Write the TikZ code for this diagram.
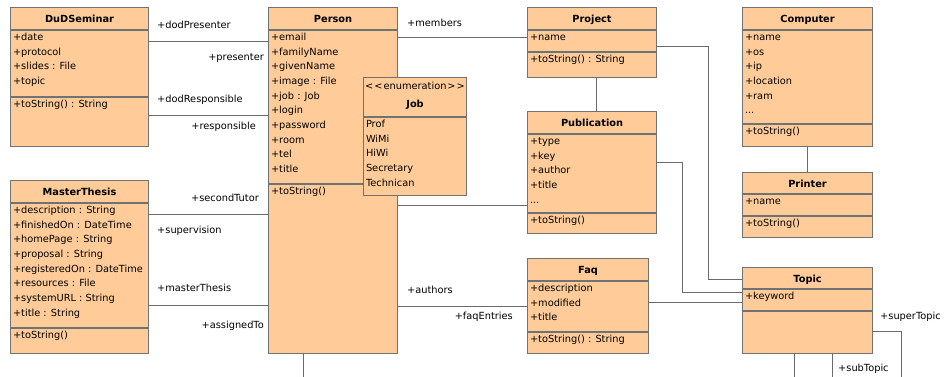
\documentclass[tikz,border=0pt]{standalone}
\usepackage{fontspec}
\setmainfont{DejaVu Sans}
\usepackage{tikz}
\usetikzlibrary{positioning}
\definecolor{umlfill}{HTML}{FFCC99}
\definecolor{umlline}{HTML}{727272}
\definecolor{linkcol}{HTML}{6A6A6A}
\newcommand{\clsfont}{\fontsize{9.8}{14.67}\selectfont}
\tikzset{
  cls/.style={draw=umlline, line width=1.1pt, fill=umlfill, anchor=north west,
    inner sep=0pt, minimum width=#1},
  divider/.style={draw=umlline, line width=1.1pt}}

\begin{document}
\begin{tikzpicture}[x=1pt, y=-1pt, font=\clsfont,
      ttl/.style={anchor=north, minimum height=23, text height=7, text depth=0,
        inner sep=0pt, font=\clsfont\bfseries},
      cmp/.style={anchor=north west, align=left, inner xsep=2.8pt, inner ysep=0pt},
      assoc/.style={draw=linkcol, line width=1pt},
      role/.style={inner sep=0pt, text height=7, text depth=0}]
      \useasboundingbox (0,0) rectangle (946,377);
      \clip (0,0) rectangle (946,377);
      % DuDSeminar
      \node[cls=138, minimum height=139] (dud) at (10,7) {};
      \node[ttl] (dudT) at (dud.north) {DuDSeminar};
      \draw[divider] (dud.west |- 0,30) -- (dud.east |- 0,30);
      \draw[divider] (dud.west |- 0,97) -- (dud.east |- 0,97);
      \node[cmp] (dudA) at (dud.west |- 0,30) {\strut+date\\+protocol\\+slides : File\\+topic};
      \node[cmp] (dudM) at (dud.west |- 0,97) {\strut+toString() : String};
      % MasterThesis
      \node[cls=138, minimum height=173] (master) at (10,180) {};
      \node[ttl] (masterT) at (master.north) {MasterThesis};
      \draw[divider] (master.west |- 0,203) -- (master.east |- 0,203);
      \draw[divider] (master.west |- 0,328) -- (master.east |- 0,328);
      \node[cmp] (masterA) at (master.west |- 0,203) {\strut+description : String\\
        +finishedOn : DateTime\\+homePage : String\\+proposal : String\\
        +registeredOn : DateTime\\+resources : File\\+systemURL : String\\+title : String};
      \node[cmp] (masterM) at (master.west |- 0,328) {\strut+toString()};
      % Person
      \node[cls=129, minimum height=346] (person) at (268,7) {};
      \node[ttl] (personT) at (person.north) {Person};
      \draw[divider] (person.west |- 0,30) -- (person.east |- 0,30);
      \draw[divider] (person.west |- 0,184) -- (person.east |- 0,184);
      \node[cmp] (personA) at (person.west |- 0,30) {\strut+email\\+familyName\\+givenName\\
        +image : File\\+job : Job\\+login\\+password\\+room\\+tel\\+title};
      \node[cmp] (personM) at (person.west |- 0,184) {\strut+toString()};
      % Job
      \node[cls=103, minimum height=118] (job) at (363,77) {};
      \node[ttl, minimum height=18, font=\clsfont] (jobS) at (job.north)
        {<\kern1pt<\kern1pt enumeration\kern1pt>\kern1pt>};
      \node[ttl, minimum height=16, below=0pt of jobS] (jobT) {Job};
      \draw[divider] (job.west |- 0,117) -- (job.east |- 0,117);
      \node[cmp] (jobA) at (job.west |- 0,117) {\strut Prof\\WiMi\\HiWi\\Secretary\\Technican};
      % Project
      \node[cls=129, minimum height=70] (project) at (527,7) {};
      \node[ttl] (projectT) at (project.north) {Project};
      \draw[divider] (project.west |- 0,30) -- (project.east |- 0,30);
      \draw[divider] (project.west |- 0,52) -- (project.east |- 0,52);
      \node[cmp] (projectA) at (project.west |- 0,30) {\strut+name};
      \node[cmp] (projectM) at (project.west |- 0,52) {\strut+toString() : String};
      % Publication
      \node[cls=129, minimum height=122] (pub) at (527,111) {};
      \node[ttl] (pubT) at (pub.north) {Publication};
      \draw[divider] (pub.west |- 0,134) -- (pub.east |- 0,134);
      \draw[divider] (pub.west |- 0,213) -- (pub.east |- 0,213);
      \node[cmp] (pubA) at (pub.west |- 0,134) {\strut+type\\+key\\+author\\+title\\...};
      \node[cmp] (pubM) at (pub.west |- 0,213) {\strut+toString()};
      % Faq
      \node[cls=121, minimum height=95] (faq) at (527,258) {};
      \node[ttl] (faqT) at (faq.north) {Faq};
      \draw[divider] (faq.west |- 0,281) -- (faq.east |- 0,281);
      \draw[divider] (faq.west |- 0,332) -- (faq.east |- 0,332);
      \node[cmp] (faqA) at (faq.west |- 0,281) {\strut+description\\+modified\\+title};
      \node[cmp] (faqM) at (faq.west |- 0,332) {\strut+toString() : String};
      % Computer
      \node[cls=130, minimum height=139] (computer) at (742,7) {};
      \node[ttl] (computerT) at (computer.north) {Computer};
      \draw[divider] (computer.west |- 0,30) -- (computer.east |- 0,30);
      \draw[divider] (computer.west |- 0,124) -- (computer.east |- 0,124);
      \node[cmp] (computerA) at (computer.west |- 0,30) {\strut+name\\+os\\+ip\\+location\\+ram\\...};
      \node[cmp] (computerM) at (computer.west |- 0,124) {\strut+toString()};
      % Printer
      \node[cls=130, minimum height=65] (printer) at (742,172) {};
      \node[ttl] (printerT) at (printer.north) {Printer};
      \draw[divider] (printer.west |- 0,194) -- (printer.east |- 0,194);
      \draw[divider] (printer.west |- 0,216) -- (printer.east |- 0,216);
      \node[cmp] (printerA) at (printer.west |- 0,194) {\strut+name};
      \node[cmp] (printerM) at (printer.west |- 0,216) {\strut+toString()};
      % Topic
      \node[cls=130, minimum height=86] (topic) at (742,267) {};
      \node[ttl] (topicT) at (topic.north) {Topic};
      \draw[divider] (topic.west |- 0,289) -- (topic.east |- 0,289);
      \draw[divider] (topic.west |- 0,311) -- (topic.east |- 0,311);
      \node[cmp] (topicA) at (topic.west |- 0,289) {\strut+keyword};
      % free ends below the page
      \coordinate (personEnd) at (303,390);
      \coordinate (topicEndA) at (794,390);
      \coordinate (topicEndB) at (832,390);
      \coordinate (topicEndR) at (901,390);
      % associations
      \draw[assoc] (dud.east |- 0,42) -- (person.west |- 0,42);
      \draw[assoc] (dud.east |- 0,116) -- (person.west |- 0,116);
      \draw[assoc] (master.east |- 0,215) -- (person.west |- 0,215);
      \draw[assoc] (master.east |- 0,305) -- (person.west |- 0,305);
      \draw[assoc] (person.east |- 0,38) -- (project.west |- 0,38);
      \draw[assoc] (person.east |- 0,206) -- (pub.west |- 0,206);
      \draw[assoc] (person.east |- 0,306) -- (faq.west |- 0,306);
      \draw[assoc] (person.south -| personEnd) -- (personEnd);
      \draw[assoc] (project.south -| 596,0) -- (pub.north -| 596,0);
      \draw[assoc] (project.east |- 0,47) -| (708,279) -- (topic.west |- 0,279);
      \draw[assoc] (pub.east |- 0,163) -| (682,292) -- (topic.west |- 0,292);
      \draw[assoc] (faq.east |- 0,302) -- (topic.west |- 0,302);
      \draw[assoc] (computer.south -| 807,0) -- (printer.north -| 807,0);
      \draw[assoc] (topic.east |- 0,331) -| (topicEndR);
      \draw[assoc] (topic.south -| topicEndA) -- (topicEndA);
      \draw[assoc] (topic.south -| topicEndB) -- (topicEndB);
      % role names
      \node[role, anchor=west] (rDodPres) at (157,25) {+dodPresenter};
      \node[role, anchor=east] (rPres) at (264,57) {+presenter};
      \node[role, anchor=west] (rDodResp) at (157,99) {+dodResponsible};
      \node[role, anchor=east] (rResp) at (256,126) {+responsible};
      \node[role, anchor=east] (rSecond) at (259,198) {+secondTutor};
      \node[role, anchor=west] (rSuperv) at (157,230) {+supervision};
      \node[role, anchor=west] (rMaster) at (157,288) {+masterThesis};
      \node[role, anchor=east] (rAssigned) at (264,325) {+assignedTo};
      \node[role, anchor=west] (rMembers) at (407,23) {+members};
      \node[role, anchor=west] (rAuthors) at (407,290) {+authors};
      \node[role, anchor=east] (rFaq) at (513,316) {+faqEntries};
      \node[role, anchor=west] (rSuper) at (880,316) {+superTopic};
      \node[role, anchor=west] (rSub) at (838,368) {+subTopic};
    \end{tikzpicture}
\end{document}
